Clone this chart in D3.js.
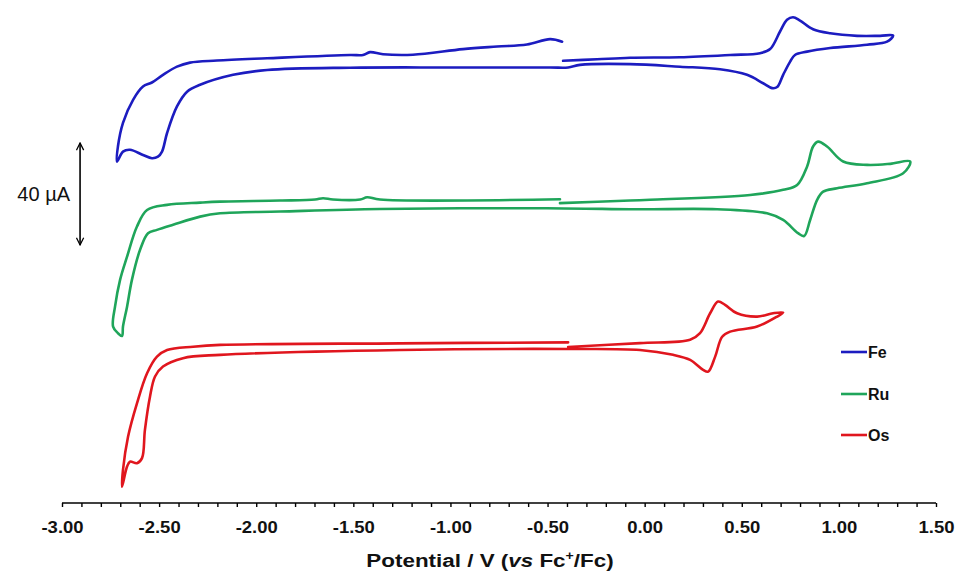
<!DOCTYPE html>
<html>
<head>
<meta charset="utf-8">
<script src="https://cdn.jsdelivr.net/npm/d3@7"></script>
<style>
  html, body { margin: 0; padding: 0; background: #fff; }
  svg { display: block; }
</style>
</head>
<body>
<svg id="chart" width="957" height="574"></svg>
<script>
// ---------- data (potential in V vs Fc+/Fc, current in µA) ----------
const categories = ["Fe", "Ru", "Os"];
const colors = ["#1c1cc0", "#1fa55a", "#e0161e"];
// vertical offsets (µA) used to stack the three voltammograms
const offsets = [172.2, 116.9, 61.6];

const feE = [-0.420,-0.245,-0.075,0.182,0.440,0.594,0.646,0.697,0.733,0.764,0.800,0.867,0.955,1.094,1.212,1.279,
  1.248,1.145,0.955,0.836,0.774,0.749,0.713,0.682,0.656,0.610,0.527,0.388,0.182,-0.075,-0.333,-0.394,-0.487,-1.002,-1.517,-1.944,-2.119,-2.289,-2.356,-2.408,-2.459,-2.485,-2.506,-2.537,-2.583,-2.650,-2.686,-2.717,
  -2.712,-2.686,-2.634,-2.583,-2.537,-2.480,-2.408,-2.341,-2.202,-1.944,-1.517,-1.450,-1.414,-1.347,-1.193,-0.935,-0.760,-0.606,-0.487,-0.425];
const feI = [1.2,1.8,2.4,2.6,3.5,4.2,5.8,12.7,17.3,18.3,17.0,13.6,12.0,11.0,11.0,11.1,
  8.7,7.5,6.2,4.8,3.5,0.9,-4.3,-9.1,-9.5,-7.6,-4.3,-2.1,-1.1,-0.1,-0.4,-1.4,-1.4,-1.4,-1.5,-2.4,-4.3,-8.2,-10.9,-16.7,-27.1,-34.4,-36.4,-37.0,-35.7,-33.7,-34.4,-38.3,
  -32.4,-23.1,-14.1,-8.9,-7.3,-4.3,-1.1,0.5,1.3,2.2,3.5,3.5,4.6,3.8,3.6,5.8,6.8,7.6,9.7,8.7];

const ruE = [-0.436,-0.075,0.028,0.543,0.713,0.785,0.836,0.867,0.893,0.939,1.022,1.145,1.264,1.367,
  1.331,1.145,0.991,0.919,0.888,0.852,0.821,0.790,0.713,0.630,0.373,0.028,-0.075,-0.503,-1.363,-1.877,-2.186,-2.289,-2.428,-2.511,-2.557,-2.598,-2.640,-2.665,-2.686,-2.691,-2.712,-2.737,
  -2.727,-2.701,-2.665,-2.614,-2.562,-2.459,-2.289,-2.186,-1.877,-1.697,-1.656,-1.605,-1.465,-1.429,-1.363,-0.436];
const ruI = [0.7,1.7,2.0,3.9,5.9,7.8,15.0,22.9,24.8,22.9,17.0,15.7,16.1,17.0,
  12.4,8.5,6.5,5.2,2.0,-5.9,-12.2,-11.1,-5.9,-3.3,-1.7,-1.7,-1.7,-1.3,-1.6,-2.6,-3.3,-4.6,-7.8,-9.8,-11.1,-17.6,-29.4,-39.9,-47.7,-51.4,-50.3,-47.7,
  -39.9,-29.4,-20.3,-8.5,-2.0,0.0,0.9,1.3,1.7,2.1,2.6,2.1,2.1,3.0,2.1,2.2];

const osE = [-0.394,-0.024,0.234,0.285,0.337,0.378,0.414,0.476,0.579,0.661,0.713,
  0.682,0.579,0.440,0.399,0.363,0.327,0.301,0.234,0.146,-0.024,-0.394,-1.260,-2.186,-2.377,-2.480,-2.521,-2.547,-2.573,-2.588,-2.614,-2.650,-2.665,-2.691,
  -2.686,-2.660,-2.614,-2.562,-2.511,-2.459,-2.325,-2.186,-1.260,-0.394];
const osI = [-0.4,1.1,2.4,5.0,12.8,17.4,16.1,12.8,11.5,12.8,13.1,
  11.5,7.6,5.6,3.6,-4.2,-10.1,-9.4,-5.5,-3.5,-1.6,-1.2,-1.6,-3.5,-4.8,-8.1,-12.0,-19.9,-32.9,-44.0,-46.0,-45.4,-47.3,-55.2,
  -48.6,-35.6,-22.5,-10.7,-4.2,-1.6,-0.3,0.4,1.0,1.4];

const seriesE = [feE, ruE, osE];
const seriesI = [feI, ruI, osI];

const xTicks = [-3.0, -2.5, -2.0, -1.5, -1.0, -0.5, 0.0, 0.5, 1.0, 1.5];
const scaleBarValue = 40;           // µA
const scaleBarBase = 101.2;         // µA on stacked scale
const scaleBarE = -2.907;           // V, horizontal position

// ---------- drawing ----------
const svg = d3.select("#chart");
const x = d3.scaleLinear().domain([-3, 1.5]).range([62, 936]);
const y = d3.scaleLinear().domain([0, 197.25]).range([503, 0]);

const line = d3.line()
  .x(d => x(d[0]))
  .y(d => y(d[1]))
  .curve(d3.curveCatmullRom.alpha(0.5));

categories.forEach((c, i) => {
  const pts = seriesE[i].map((e, k) => [e, seriesI[i][k] + offsets[i]]);
  svg.append("path")
    .datum(pts)
    .attr("d", line)
    .attr("fill", "none")
    .attr("stroke", colors[i])
    .attr("stroke-width", 2.6)
    .attr("stroke-linejoin", "round")
    .attr("stroke-linecap", "round");
});

// x axis
const minorTicks = d3.range(-30, 16).map(v => v / 10);
const axis = d3.axisBottom(x)
  .tickValues(minorTicks)
  .tickSize(4)
  .tickFormat("");
const gx = svg.append("g").attr("transform", `translate(0,${y(0)})`).call(axis);
gx.select(".domain").attr("stroke", "#000").attr("stroke-width", 1.6)
  .attr("d", `M${x(-3)},0H${x(1.5)}`);
gx.selectAll(".tick line").attr("stroke", "#000").attr("stroke-width", 1.4);

const fmt = d => d3.format(".2f")(d).replace("\u2212", "-");
const gl = svg.append("g").attr("transform", `translate(0,${y(0)})`)
  .call(d3.axisBottom(x).tickValues(xTicks).tickSize(0).tickPadding(18).tickFormat(fmt));
gl.select(".domain").remove();
gl.selectAll("text")
  .attr("font-family", "Liberation Sans, Arial, sans-serif")
  .attr("font-size", 16.5)
  .attr("font-weight", "bold")
  .attr("fill", "#111")
  .attr("transform", "scale(1.12,1)");

// axis title
const title = svg.append("g").attr("transform", "translate(490,567) scale(1.18,1)")
  .append("text")
  .attr("x", 0).attr("y", 0)
  .attr("text-anchor", "middle")
  .attr("font-family", "Liberation Sans, Arial, sans-serif")
  .attr("font-size", 19)
  .attr("font-weight", "bold")
  .attr("fill", "#111");
title.append("tspan").text("Potential / V (");
title.append("tspan").attr("font-style", "italic").text("vs");
title.append("tspan").text(" Fc");
title.append("tspan").attr("font-size", 12).attr("dy", -7).text("+");
title.append("tspan").attr("dy", 7).text("/Fc)");

// scale bar
const defs = svg.append("defs");
defs.append("marker").attr("id", "arr").attr("viewBox", "0 0 10 10")
  .attr("refX", 9).attr("refY", 5).attr("markerWidth", 9).attr("markerHeight", 9)
  .attr("markerUnits", "userSpaceOnUse")
  .attr("orient", "auto-start-reverse")
  .append("path").attr("d", "M1,1 L9,5 L1,9").attr("fill", "none")
  .attr("stroke", "#000").attr("stroke-width", 1.4);
svg.append("line")
  .attr("x1", x(scaleBarE)).attr("x2", x(scaleBarE))
  .attr("y1", y(scaleBarBase)).attr("y2", y(scaleBarBase + scaleBarValue))
  .attr("stroke", "#000").attr("stroke-width", 1.6)
  .attr("marker-start", "url(#arr)").attr("marker-end", "url(#arr)");
svg.append("text")
  .attr("x", 70).attr("y", y(scaleBarBase + scaleBarValue / 2) + 7)
  .attr("text-anchor", "end")
  .attr("font-family", "Liberation Sans, Arial, sans-serif")
  .attr("font-size", 20)
  .attr("fill", "#111")
  .text(scaleBarValue + " \u00b5A");

// legend
const legY = [352, 394, 435];
categories.forEach((c, i) => {
  svg.append("line").attr("x1", 841).attr("x2", 867)
    .attr("y1", legY[i]).attr("y2", legY[i])
    .attr("stroke", colors[i]).attr("stroke-width", 2.6);
  svg.append("text").attr("x", 868).attr("y", legY[i] + 6)
    .attr("font-family", "Liberation Sans, Arial, sans-serif")
    .attr("font-size", 16).attr("font-weight", "bold")
    .attr("fill", "#111")
    .text(c);
});
</script>
</body>
</html>
